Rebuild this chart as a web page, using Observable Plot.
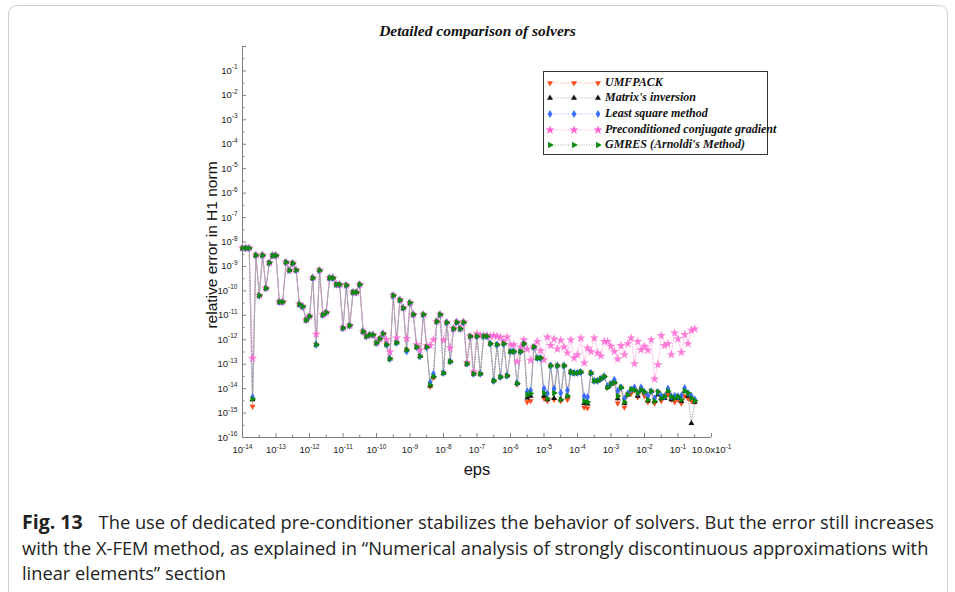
<!DOCTYPE html>
<html>
<head>
<meta charset="utf-8">
<script src="https://cdn.jsdelivr.net/npm/d3@7"></script>
<script src="https://cdn.jsdelivr.net/npm/@observablehq/plot@0.6"></script>
<style>
  body { margin: 0; background: #fff; }
  #wrap { position: relative; width: 955px; height: 592px; overflow: hidden; font-family: "Liberation Sans", Arial, sans-serif; }
  #frame { position: absolute; left: 8px; top: 5px; width: 938px; height: 640px; border: 1px solid #cfcfcf; border-radius: 9px; }
  #title { position: absolute; left: 0; width: 955px; top: 22px; text-align: center; font: bold italic 15.5px "Liberation Serif", "Times New Roman", serif; color: #111; }
  #chart { position: absolute; left: 0; top: 0; }
  #ytitle { position: absolute; left: 212px; top: 245px; transform: translate(-50%, -50%) rotate(-90deg); white-space: nowrap; font-size: 15.5px; color: #111; }
  #xtitle { position: absolute; left: 477px; top: 469px; transform: translate(-50%, -50%); font-size: 16.5px; color: #111; }
  #legend { position: absolute; left: 543px; top: 71px; width: 223px; height: 82px; border: 1px solid #333; background: #fff; }
  .lrow { position: absolute; left: 0; height: 14px; display: flex; align-items: center; }
  .lrow svg { display: block; }
  .lrow span { position: absolute; left: 61px; top: -1px; white-space: nowrap; font: bold italic 12px "Liberation Serif", "Times New Roman", serif; color: #111; }
  #caption { position: absolute; left: 22px; top: 509px; width: 930px; font-family: "Open Sans", "Noto Sans", sans-serif; font-size: 18.3px; line-height: 25.5px; color: #222; white-space: nowrap; }
  #caption b { font-size: 19.5px; margin-right: 16px; }
</style>
</head>
<body>
<div id="wrap">
  <div id="frame"></div>
  <div id="chart"></div>
  <div id="title">Detailed comparison of solvers</div>
  <div id="ytitle">relative error in H1 norm</div>
  <div id="xtitle">eps</div>
  <div id="legend"></div>
  <div id="caption"><b>Fig. 13</b>The use of dedicated pre-conditioner stabilizes the behavior of solvers. But the error still increases<br>with the X-FEM method, as explained in “Numerical analysis of strongly discontinuous approximations with<br>linear elements” section</div>
</div>
<script>
// ---- data: eps exponents (log10 of eps) ----
const epsExp = [
  -14.0,-13.9,-13.8,-13.7,-13.6,-13.5,-13.4,-13.3,-13.2,-13.1,
  -13.0,-12.9,-12.8,-12.7,-12.6,-12.5,-12.4,-12.3,-12.2,-12.1,
  -12.0,-11.9,-11.8,-11.7,-11.6,-11.5,-11.4,-11.3,-11.2,-11.1,
  -11.0,-10.9,-10.8,-10.7,-10.6,-10.5,-10.4,-10.3,-10.2,-10.1,
  -10.0,-9.9,-9.8,-9.7,-9.6,-9.5,-9.4,-9.3,-9.2,-9.1,
  -9.0,-8.9,-8.8,-8.7,-8.6,-8.5,-8.4,-8.3,-8.2,-8.1,
  -8.0,-7.9,-7.8,-7.7,-7.6,-7.5,-7.4,-7.3,-7.2,-7.1,
  -7.0,-6.9,-6.8,-6.7,-6.6,-6.5,-6.4,-6.3,-6.2,-6.1,
  -6.0,-5.9,-5.8,-5.7,-5.6,-5.5,-5.4,-5.3,-5.2,-5.1,
  -5.0,-4.9,-4.8,-4.7,-4.6,-4.5,-4.4,-4.3,-4.2,-4.1,
  -4.0,-3.9,-3.8,-3.7,-3.6,-3.5,-3.4,-3.3,-3.2,-3.1,
  -3.0,-2.9,-2.8,-2.7,-2.6,-2.5,-2.4,-2.3,-2.2,-2.1,
  -2.0,-1.9,-1.8,-1.7,-1.6,-1.5,-1.4,-1.3,-1.2,-1.1,
  -1.0,-0.9,-0.8,-0.7,-0.6,-0.5
];

// ---- data: log10 of relative error in H1 norm, per solver ----
const umfpackExp = [
  -8.25,-8.25,-8.25,-14.73,-8.54,-10.19,-8.54,-9.89,-8.85,-8.55,
  -8.55,-10.45,-10.45,-8.83,-9.16,-8.87,-9.15,-10.55,-10.64,-11.19,
  -11.04,-9.47,-12.2,-9.16,-10.98,-10.88,-9.47,-9.47,-9.74,-9.74,
  -11.52,-9.77,-11.42,-10.06,-10.06,-9.74,-11.66,-11.86,-11.8,-11.8,
  -12.13,-11.96,-11.75,-12.2,-12.78,-10.19,-12.12,-10.37,-10.7,-12.42,
  -10.49,-10.97,-12.3,-12.68,-10.97,-12.3,-13.92,-13.55,-11.25,-10.97,
  -13.36,-11.29,-12.89,-11.55,-11.28,-11.55,-11.28,-12.98,-11.86,-13.39,
  -11.86,-13.39,-11.86,-11.86,-12.16,-13.68,-12.2,-13.52,-12.16,-13.47,
  -12.48,-12.48,-13.82,-12.48,-12.16,-14.55,-14.5,-12.3,-12.75,-12.75,
  -14.4,-14.5,-13.06,-14.45,-13.06,-14.5,-13.06,-14.45,-13.32,-13.36,
  -13.36,-13.32,-14.77,-14.8,-13.36,-13.68,-13.68,-13.6,-13.5,-13.95,
  -13.81,-13.75,-14.6,-13.95,-14.77,-14.25,-14.2,-14.05,-14.35,-14.05,
  -14.3,-14.55,-14.11,-14.6,-14.14,-14.5,-14.32,-14.25,-14.45,-14.55,
  -14.45,-14.6,-14.3,-14.4,-14.5,-14.55
];
const matrixExp = [
  -8.25,-8.25,-8.25,-14.45,-8.54,-10.19,-8.54,-9.89,-8.85,-8.55,
  -8.55,-10.45,-10.45,-8.83,-9.16,-8.87,-9.15,-10.55,-10.64,-11.19,
  -11.04,-9.47,-12.2,-9.16,-10.98,-10.88,-9.47,-9.47,-9.74,-9.74,
  -11.52,-9.77,-11.42,-10.06,-10.06,-9.74,-11.66,-11.86,-11.8,-11.8,
  -12.13,-11.96,-11.75,-12.2,-12.78,-10.19,-12.12,-10.37,-10.7,-12.42,
  -10.49,-10.97,-12.3,-12.68,-10.97,-12.3,-13.88,-13.52,-11.25,-10.97,
  -13.36,-11.29,-12.89,-11.55,-11.28,-11.55,-11.28,-12.98,-11.86,-13.39,
  -11.86,-13.39,-11.86,-11.86,-12.16,-13.68,-12.2,-13.52,-12.16,-13.47,
  -12.48,-12.48,-13.78,-12.48,-12.16,-14.38,-14.3,-12.3,-12.75,-12.75,
  -14.3,-14.45,-13.06,-14.4,-13.06,-14.45,-13.06,-14.3,-13.32,-13.36,
  -13.36,-13.32,-14.6,-14.62,-13.36,-13.68,-13.68,-13.6,-13.5,-13.95,
  -13.81,-13.75,-14.41,-13.95,-14.6,-14.25,-14.04,-14.05,-14.3,-14.05,
  -14.14,-14.5,-14.11,-14.52,-14.25,-14.4,-14.4,-14.1,-14.45,-14.39,
  -14.4,-14.52,-14.1,-14.3,-15.42,-14.55
];
const leastSqExp = [
  -8.25,-8.25,-8.25,-14.35,-8.54,-10.19,-8.54,-9.89,-8.85,-8.55,
  -8.55,-10.45,-10.45,-8.83,-9.16,-8.87,-9.15,-10.55,-10.64,-11.19,
  -11.04,-9.47,-12.2,-9.16,-10.98,-10.88,-9.47,-9.47,-9.74,-9.74,
  -11.52,-9.77,-11.42,-10.06,-10.06,-9.74,-11.66,-11.86,-11.8,-11.8,
  -12.13,-11.96,-11.75,-12.2,-12.78,-10.19,-12.12,-10.37,-10.7,-12.48,
  -10.49,-10.97,-12.3,-12.68,-10.97,-12.3,-13.75,-13.4,-11.25,-10.97,
  -13.36,-11.29,-12.89,-11.55,-11.28,-11.55,-11.28,-12.98,-11.86,-13.39,
  -11.86,-13.39,-11.86,-11.86,-12.16,-13.68,-12.2,-13.52,-12.16,-13.47,
  -12.48,-12.48,-13.78,-12.48,-12.16,-14.12,-14.08,-12.3,-12.75,-12.75,
  -14.0,-14.2,-13.06,-14.0,-13.06,-14.18,-13.06,-14.07,-13.32,-13.36,
  -13.36,-13.32,-14.32,-14.35,-13.36,-13.68,-13.68,-13.6,-13.5,-13.9,
  -13.81,-13.64,-14.09,-13.95,-14.41,-14.2,-14.04,-13.95,-14.18,-13.95,
  -14.14,-14.3,-14.11,-14.4,-14.14,-14.3,-14.32,-14.0,-14.32,-14.3,
  -14.32,-14.3,-13.98,-14.18,-14.3,-14.45
];
const pcgExp = [
  -8.25,-8.25,-8.25,-12.76,-8.54,-10.19,-8.54,-9.89,-8.85,-8.55,
  -8.55,-10.45,-10.45,-8.83,-9.16,-8.87,-9.15,-10.55,-10.64,-11.19,
  -11.04,-9.47,-11.77,-9.16,-10.98,-10.88,-9.47,-9.47,-9.74,-9.74,
  -11.52,-9.77,-11.42,-10.06,-10.06,-9.74,-11.66,-11.86,-11.8,-11.8,
  -12.13,-11.96,-11.75,-11.99,-12.5,-10.19,-11.93,-10.37,-10.7,-11.95,
  -10.49,-10.97,-12.2,-12.42,-10.97,-12.25,-12.24,-12.0,-11.25,-10.97,
  -12.02,-11.29,-12.34,-11.55,-11.28,-11.55,-11.28,-12.93,-11.86,-13.31,
  -11.75,-11.83,-11.83,-11.83,-11.86,-11.83,-11.86,-11.9,-12.07,-11.89,
  -12.2,-12.2,-12.9,-12.3,-12.0,-12.38,-12.84,-12.3,-12.07,-12.45,
  -12.82,-11.89,-12.24,-11.97,-12.38,-12.02,-12.3,-12.54,-12.0,-12.75,
  -12.61,-11.93,-12.95,-12.34,-12.48,-11.93,-12.54,-12.66,-12.07,-12.07,
  -12.27,-12.48,-12.79,-12.24,-12.61,-12.16,-11.93,-12.98,-12.07,-12.41,
  -12.27,-12.43,-12.0,-13.61,-13.02,-11.83,-12.24,-12.16,-12.61,-11.72,
  -11.97,-12.52,-11.79,-12.16,-11.61,-11.56
];
const gmresExp = [
  -8.25,-8.25,-8.25,-14.42,-8.54,-10.19,-8.54,-9.89,-8.85,-8.55,
  -8.55,-10.45,-10.45,-8.83,-9.16,-8.87,-9.15,-10.55,-10.64,-11.19,
  -11.04,-9.47,-12.2,-9.16,-10.98,-10.88,-9.47,-9.47,-9.74,-9.74,
  -11.52,-9.77,-11.42,-10.06,-10.06,-9.74,-11.66,-11.86,-11.8,-11.8,
  -12.13,-11.96,-11.75,-12.2,-12.78,-10.19,-12.12,-10.37,-10.7,-12.42,
  -10.49,-10.97,-12.3,-12.68,-10.97,-12.3,-13.85,-13.5,-11.25,-10.97,
  -13.36,-11.29,-12.89,-11.55,-11.28,-11.55,-11.28,-12.98,-11.86,-13.39,
  -11.86,-13.39,-11.86,-11.86,-12.16,-13.68,-12.2,-13.52,-12.16,-13.47,
  -12.48,-12.48,-13.78,-12.48,-12.16,-14.25,-14.2,-12.3,-12.75,-12.75,
  -14.18,-14.4,-13.06,-14.18,-13.06,-14.45,-13.06,-14.3,-13.32,-13.36,
  -13.36,-13.32,-14.52,-14.55,-13.36,-13.68,-13.68,-13.6,-13.5,-13.95,
  -13.81,-13.75,-14.3,-13.95,-14.55,-14.25,-14.04,-14.05,-14.18,-14.05,
  -14.14,-14.46,-14.11,-14.52,-14.14,-14.4,-14.32,-14.1,-14.32,-14.39,
  -14.32,-14.46,-14.1,-14.18,-14.39,-14.5
];

const seriesNames = ["UMFPACK", "Matrix's inversion", "Least square method", "Preconditioned conjugate gradient", "GMRES (Arnoldi's Method)"];

// ---- ticks ----
const xTicks = [1e-14,1e-13,1e-12,1e-11,1e-10,1e-9,1e-8,1e-7,1e-6,1e-5,1e-4,1e-3,1e-2,1e-1,1];
const xTickLabels = ["10|-14","10|-13","10|-12","10|-11","10|-10","10|-9","10|-8","10|-7","10|-6","10|-5","10|-4","10|-3","10|-2","10|-1","10.0x10|-1"];
const xMinor = [3.162e-14,3.162e-13,3.162e-12,3.162e-11,3.162e-10,3.162e-9,3.162e-8,3.162e-7,3.162e-6,3.162e-5,3.162e-4,3.162e-3,3.162e-2,3.162e-1];
const yTicks = [1e-16,1e-15,1e-14,1e-13,1e-12,1e-11,1e-10,1e-9,1e-8,1e-7,1e-6,1e-5,1e-4,1e-3,1e-2,1e-1];
const yTickLabels = ["10|-16","10|-15","10|-14","10|-13","10|-12","10|-11","10|-10","10|-9","10|-8","10|-7","10|-6","10|-5","10|-4","10|-3","10|-2","10|-1"];
const yMinor = [3.162e-16,3.162e-15,3.162e-14,3.162e-13,3.162e-12,3.162e-11,3.162e-10,3.162e-9,3.162e-8,3.162e-7,3.162e-6,3.162e-5,3.162e-4,3.162e-3,3.162e-2,3.162e-1];

// ---- styles (separate from data) ----
const styles = [
  {color: "#ff4a1c", line: "#ff8a70", symbol: "triangle", rotate: 180, r: 2.2, d3sym: d3.symbolTriangle},
  {color: "#111111", line: "#9a9a9a", symbol: "triangle", rotate: 0, r: 2.2, d3sym: d3.symbolTriangle},
  {color: "#3d6dff", line: "#8fa8ff", symbol: "diamond", rotate: 0, r: 2.5, d3sym: d3.symbolDiamond},
  {color: "#ff5fd0", line: "#ff9ce2", symbol: "star", rotate: 0, r: 2.9, d3sym: d3.symbolStar},
  {color: "#0a8a0a", line: "#8fa08f", symbol: "triangle", rotate: 90, r: 2.4, d3sym: d3.symbolTriangle}
];

const allExp = [umfpackExp, matrixExp, leastSqExp, pcgExp, gmresExp];
const rows = allExp.map((vals, si) => vals.map((v, k) => ({series: seriesNames[si], eps: 10 ** epsExp[k], err: 10 ** v})));

const W = 955, H = 480, mL = 242, mR = 244, mT = 46, mB = 43;
const innerW = W - mL - mR, innerH = H - mT - mB;
const axisColor = "#808080";

const marks = [];
rows.forEach((r, i) => {
  marks.push(Plot.line(r, {x: "eps", y: "err", stroke: styles[i].line, strokeWidth: 0.9, strokeOpacity: 0.8, strokeDasharray: "1,1.6"}));
});
rows.forEach((r, i) => {
  const s = styles[i];
  marks.push(Plot.dot(r, {x: "eps", y: "err", symbol: s.symbol, rotate: s.rotate, r: s.r, fill: s.color, stroke: "none", fillOpacity: i === 3 ? 0.8 : 1}));
});

const chart = Plot.plot({
  width: W, height: H,
  marginLeft: mL, marginRight: mR, marginTop: mT, marginBottom: mB,
  x: {type: "log", domain: [1e-14, 1], label: null},
  y: {type: "log", domain: [1e-16, 1], label: null},
  style: {fontFamily: "'Liberation Sans', Arial, sans-serif", fontSize: "9.5px", background: "transparent", color: "#222"},
  marks: [
    Plot.ruleX([1e-14], {stroke: axisColor}),
    Plot.ruleY([1e-16], {stroke: axisColor}),
    Plot.tickX(xTicks, {x: d => d, stroke: axisColor, insetTop: innerH - 4}),
    Plot.tickX(xMinor, {x: d => d, stroke: axisColor, insetTop: innerH - 2.5}),
    Plot.tickY(yTicks.concat([1]), {y: d => d, stroke: axisColor, insetRight: innerW - 4}),
    Plot.tickY(yMinor, {y: d => d, stroke: axisColor, insetRight: innerW - 2.5}),
    Plot.axisX({ticks: xTicks, tickSize: 0, tickPadding: 9, tickFormat: d => xTickLabels[xTicks.indexOf(d)], fill: "#222"}),
    Plot.axisY({ticks: yTicks, tickSize: 0, tickPadding: 5, tickFormat: d => yTickLabels[yTicks.indexOf(d)], fill: "#222"}),
    ...marks
  ]
});

// superscripts for tick labels
d3.select(chart).selectAll("text").each(function() {
  const t = this.textContent;
  if (t && t.includes("|")) {
    const [base, ex] = t.split("|");
    const sel = d3.select(this);
    sel.text(null);
    sel.append("tspan").text(base);
    sel.append("tspan").attr("font-size", 6.5).attr("dy", -4.5).text(ex);
  }
});
document.getElementById("chart").appendChild(chart);

// legend
const legend = d3.select("#legend");
seriesNames.forEach((name, i) => {
  const s = styles[i];
  const row = legend.append("div").attr("class", "lrow").style("top", (3.7 + i * 15.6) + "px");
  const svg = row.append("svg").attr("width", 62).attr("height", 14);
  svg.append("line").attr("x1", 6).attr("x2", 54).attr("y1", 7).attr("y2", 7)
    .attr("stroke", s.line).attr("stroke-width", 0.9).attr("stroke-dasharray", "1,1.6");
  const area = Math.PI * s.r * s.r;
  [6, 30, 54].forEach(cx => {
    svg.append("path").attr("d", d3.symbol(s.d3sym, area)())
      .attr("transform", `translate(${cx},7) rotate(${s.rotate})`).attr("fill", s.color);
  });
  row.append("span").text(name);
});
</script>
</body>
</html>
